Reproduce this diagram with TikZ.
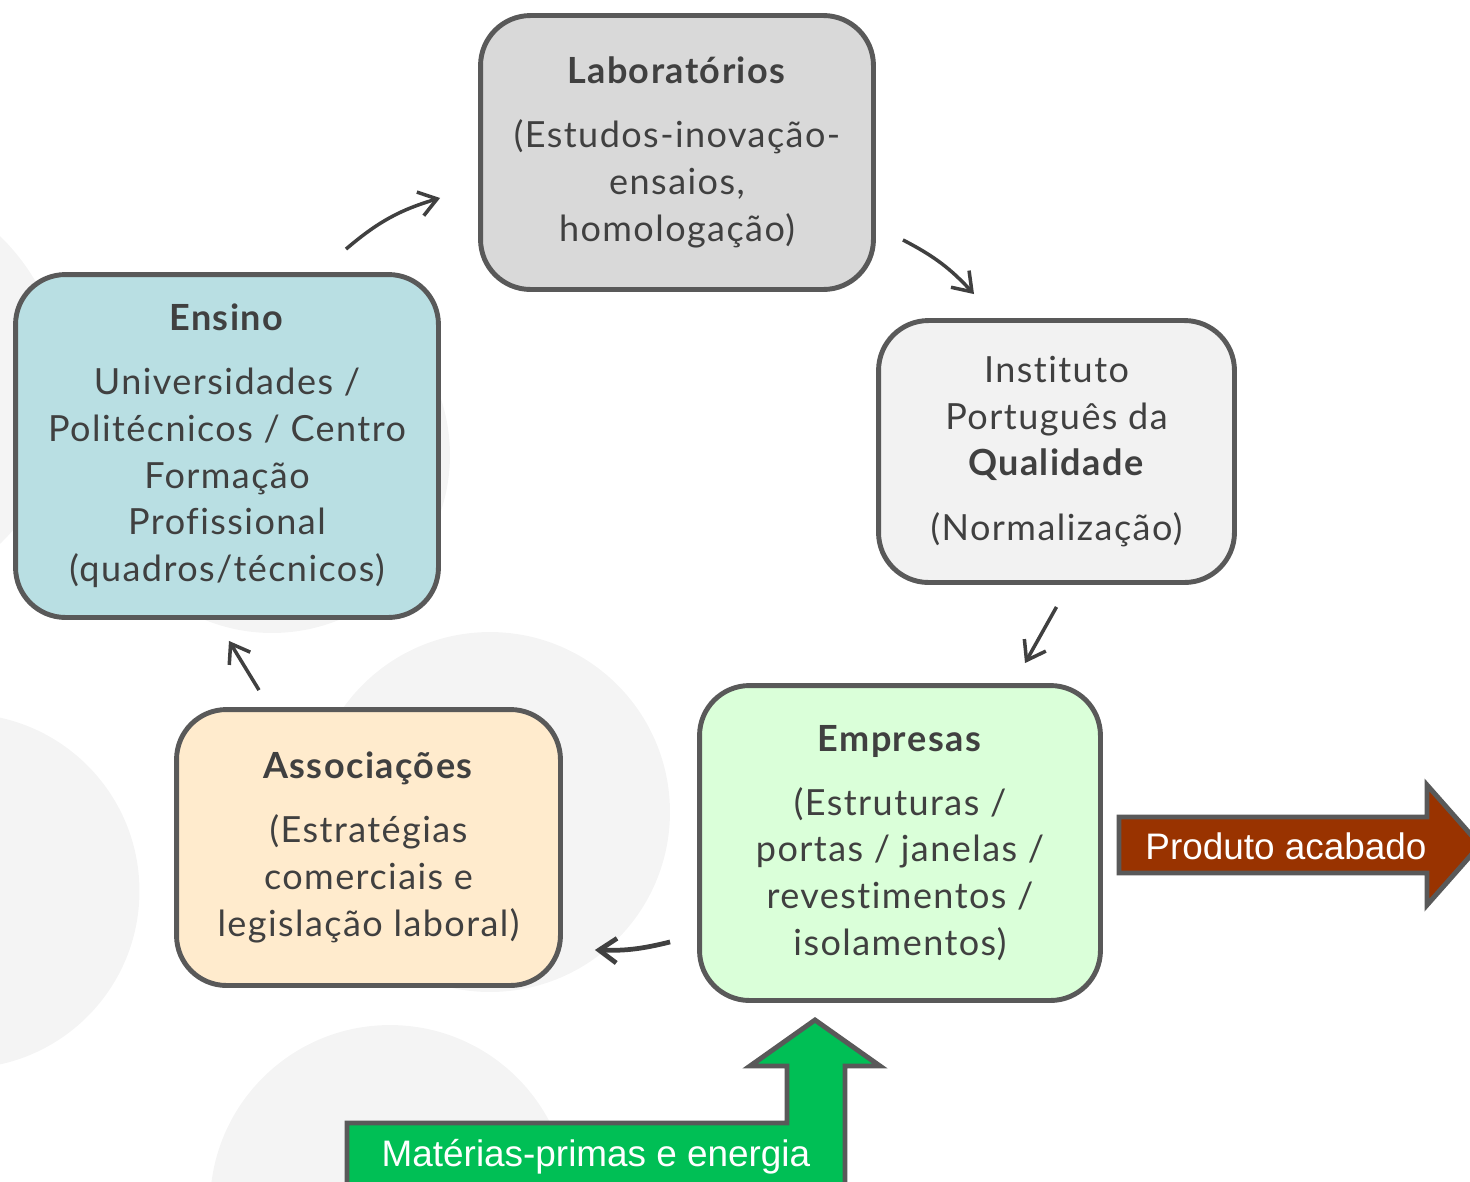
\documentclass[tikz,border=0pt]{standalone}
\usepackage{fontspec}
\setmainfont{Lato}[LetterSpace=4, Ligatures=NoCommon]
\newfontfamily\arrowfont{Liberation Sans}
\usetikzlibrary{arrows.meta}

\definecolor{bordergray}{RGB}{89,89,89}
\definecolor{textgray}{RGB}{64,64,64}
\definecolor{circlegray}{RGB}{244,244,244}
\definecolor{labfill}{RGB}{217,217,217}
\definecolor{ipqfill}{RGB}{242,242,242}
\definecolor{ensinofill}{RGB}{185,223,227}
\definecolor{assocfill}{RGB}{255,235,205}
\definecolor{empfill}{RGB}{218,255,217}
\definecolor{produtofill}{RGB}{153,51,0}
\definecolor{materiafill}{RGB}{0,191,85}

\begin{document}
\begin{tikzpicture}[x=0.02cm, y=-0.02cm]

\tikzset{box/.style = {draw=bordergray, line width=2.8pt, rounded corners=1cm, align=center, text=textgray, inner sep=0pt, font=\fontsize{20.5}{26.6}\selectfont}}
\tikzset{link/.style = {draw=textgray, line width=2pt, -{Straight Barb[length=10pt,width=14pt]}}}
\tikzset{bigarrow/.style = {draw=bordergray, line width=2.8pt, line join=miter}}
\tikzset{arrowtext/.style = {text=white, anchor=base, font=\arrowfont\fontsize{21}{25}\selectfont}}

\useasboundingbox (0,0) rectangle (1470,1181);

% background circles
\fill[circlegray] (-150,390) circle[radius=4.3cm];
\fill[circlegray] (272,455) circle[radius=3.56cm];
\fill[circlegray] (490,812) circle[radius=3.6cm];
\fill[circlegray] (-38,891) circle[radius=3.55cm];
\fill[circlegray] (390,1205) circle[radius=3.6cm];

% boxes
\node[box, fill=labfill, minimum width=7.86cm, minimum height=5.48cm] (lab) at (677,152.5)
  {\textbf{Laboratórios}\\[9.7pt](Estudos-inovação-\\ensaios,\\homologação)};
\node[box, fill=ipqfill, minimum width=7.12cm, minimum height=5.24cm] (ipq) at (1056.5,451.5)
  {Instituto\\Português da\\\textbf{Qualidade}\\[10.2pt](Normalização)};
\node[box, fill=ensinofill, minimum width=8.46cm, minimum height=6.86cm] (ensino) at (227,446)
  {\textbf{Ensino}\\[9.7pt]Universidades /\\Politécnicos / Centro\\Formação\\Profissional\\(quadros/técnicos)};
\node[box, fill=assocfill, minimum width=7.68cm, minimum height=5.52cm] (assoc) at (368.5,847.5)
  {\textbf{Associações}\\[9.7pt](Estratégias\\comerciais e\\legislação laboral)};
\node[box, fill=empfill, minimum width=8.02cm, minimum height=6.3cm] (empresas) at (900,843)
  {\textbf{Empresas}\\[9.7pt](Estruturas /\\portas / janelas /\\revestimentos /\\isolamentos)};

% cycle arrows
\draw[link] ([shift={(119,-23)}]ensino.north) to[bend left=12] ([shift={(-38,45.5)}]lab.west);
\draw[link] ([shift={(27,-52)}]lab.south east) to[bend left=10] ([shift={(-82.5,-24)}]ipq.north);
\draw[link] ([shift={(0,22)}]ipq.south) -- ([shift={(125,-20)}]empresas.north);
\draw[link, line width=2.7pt] ([shift={(-27,-61)}]empresas.south west) to[bend left=8] ([shift={(32,-38)}]assoc.south east);
\draw[link] ([shift={(-109.5,-17)}]assoc.north) -- ([shift={(2,21)}]ensino.south);

% input and output
\draw[bigarrow, fill=produtofill] (1119,817) -- (1427,817) -- (1427,785) -- (1480,845) -- (1427,905) -- (1427,873) -- (1119,873) -- cycle;
\node[arrowtext] (produto) at (1286,859) {Produto acabado};
\draw[bigarrow, fill=materiafill] (347,1200) -- (347,1123) -- (787,1123) -- (787,1066) -- (750,1066) -- (815,1020) -- (880,1066) -- (845,1066) -- (845,1200);
\node[arrowtext] (materias) at (596,1166) {Matérias-primas e energia};

\end{tikzpicture}
\end{document}
